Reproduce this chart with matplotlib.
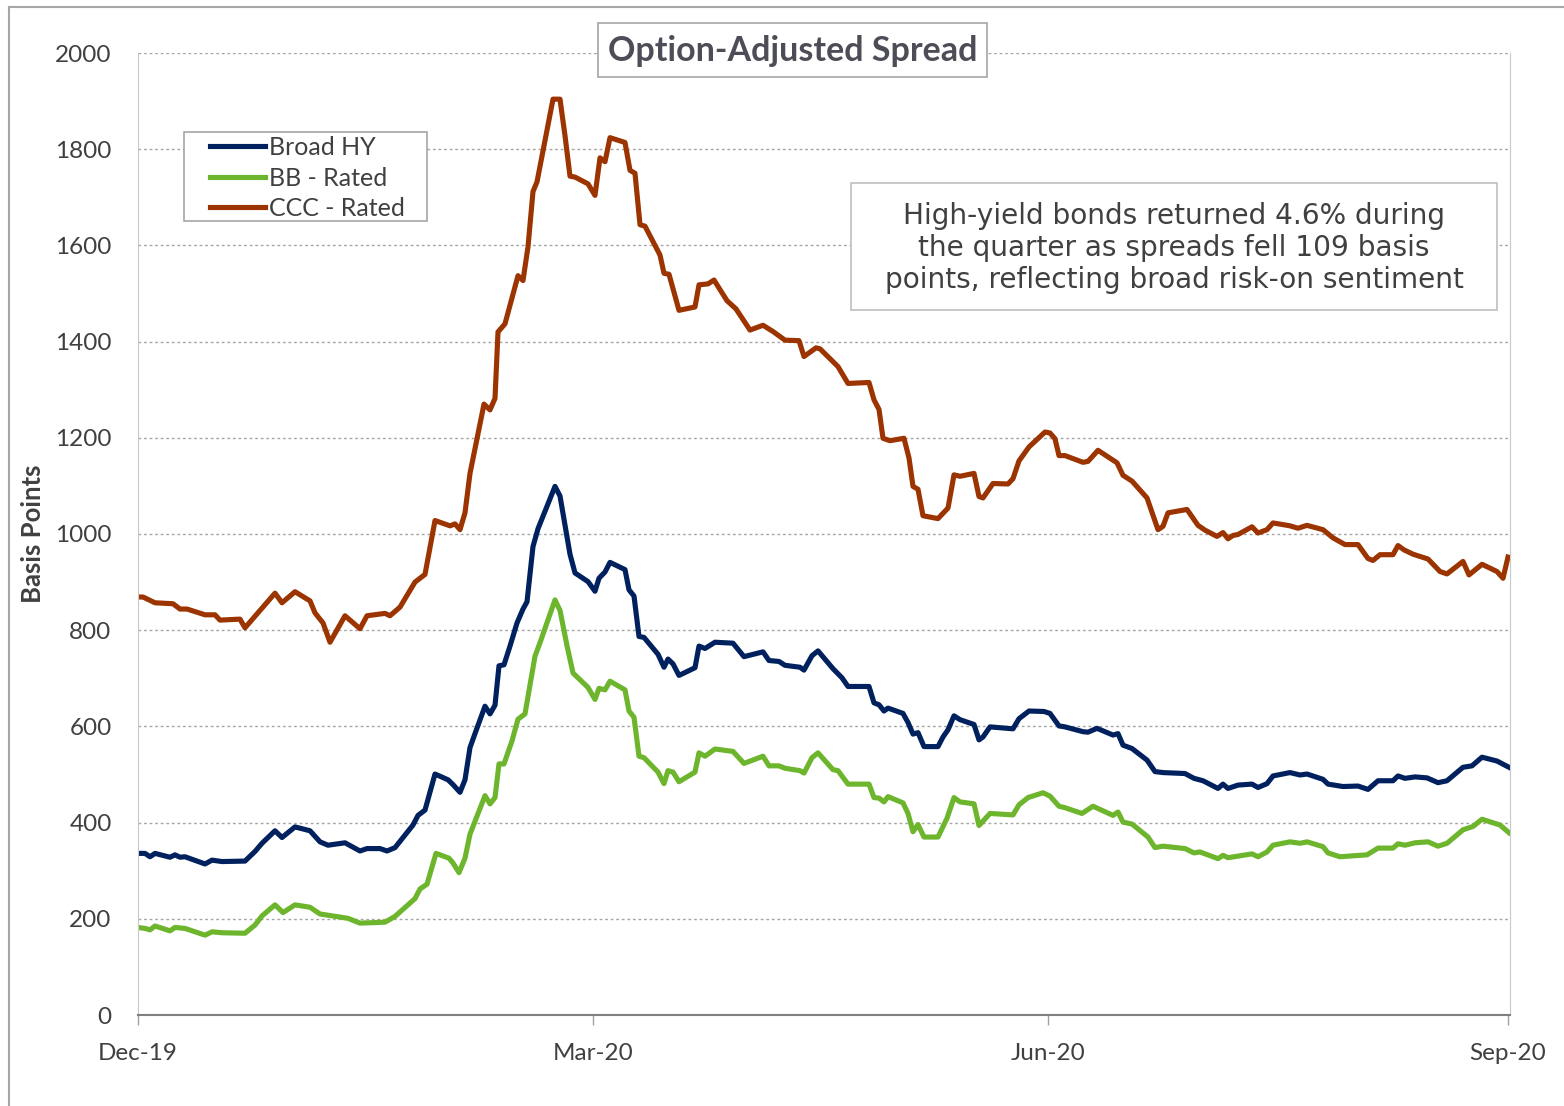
import matplotlib.pyplot as plt
from matplotlib.lines import Line2D
from matplotlib.patches import Rectangle
import pandas as pd

# Option-adjusted spreads (bp); x = days after 2019-12-31
start = pd.Timestamp('2019-12-31')

hy_days = [0, 1.4, 2.4, 3.4, 6.4, 7.4, 8.4, 9.4, 13.4, 14.8, 16.8, 21.4, 23.4, 24.8, 27.4, 28.8,
           31.4, 34.4, 36.4, 38, 41.4, 44.4, 45.8, 48.4, 49.8, 51.4, 55, 56, 57.4, 59.4, 62, 63,
           64.4, 65.4, 66.4, 67.4, 69.4, 70.4, 71.4, 72.2, 73.2, 74.4, 75.8, 77, 77.8, 79, 80,
           83.4, 84.4, 85.4, 86.4, 87.4, 90, 91.4, 92.2, 93.4, 94.4, 97.4, 98.2, 99.2, 100.2,
           101.2, 104, 105.2, 106, 107, 108.2, 111.4, 112.2, 113.4, 115.4, 119, 121.2, 125, 126.2,
           128.2, 129.4, 132.4, 133.2, 134.8, 136, 139, 140.8, 142, 146.2, 147.2, 148.2, 149.2,
           150, 153, 154, 155, 156, 157.2, 160, 161, 162, 163.2, 164.4, 167.2, 168.2, 169, 170.4,
           175, 176.2, 178.2, 181.2, 182.4, 184.2, 185.4, 189, 190, 191.8, 195, 196, 197, 198.8,
           201.8, 203.4, 205, 209.4, 211.2, 213, 216, 217, 218, 220, 222.8, 224, 225.8, 227,
           230.4, 232.4, 233.8, 237, 238, 241, 244, 246, 248, 251, 252, 253.4, 255.4, 257.8, 260,
           261.8, 265, 266.8, 268.8, 271.8, 274.2]
hy_oas = [336, 336, 329, 336, 328, 333, 328, 329, 314, 322, 319, 320, 340, 357, 383, 369,
          391, 383, 360, 353, 358, 341, 346, 346, 341, 348, 395, 415, 426, 501, 489, 479,
          463, 489, 556, 585, 642, 626, 644, 726, 728, 767, 815, 844, 859, 974, 1011,
          1099, 1079, 1018, 958, 919, 901, 881, 908, 921, 941, 926, 884, 871, 787,
          785, 750, 723, 740, 730, 706, 722, 767, 762, 775, 773, 745, 755, 737,
          735, 727, 723, 717, 747, 757, 720, 701, 683, 683, 649, 645, 632,
          638, 627, 608, 584, 587, 558, 558, 578, 593, 622, 614, 604, 572, 578, 599,
          595, 616, 632, 631, 627, 601, 599, 589, 588, 596, 582, 585, 561, 554,
          530, 506, 504, 502, 492, 487, 471, 480, 471, 478, 480, 473, 481, 497,
          504, 499, 501, 490, 480, 475, 476, 469, 487, 487, 497, 492, 495, 493, 483,
          487, 515, 518, 536, 528, 515]

bb_days = [0, 1.4, 2.4, 3.4, 6.4, 7.4, 9.4, 13.4, 14.8, 16.8, 21.4, 23.4, 24.8, 27.4, 29, 31.4,
           34.4, 36.4, 42, 44.4, 49.4, 51.4, 55.4, 56.4, 57.8, 59.6, 62.2, 63, 64.2, 65.4, 66.4,
           69.4, 70.4, 71.4, 72.2, 73.2, 74.8, 76, 77.4, 79.4, 80.4, 83.4, 84.4, 85.8, 87, 90,
           91.4, 92.2, 93.4, 94.4, 97.4, 98.2, 99.2, 100.2, 101.2, 104, 105.2, 106, 107, 108.2,
           111.4, 112.2, 113.4, 115.4, 119, 121.2, 125, 126.2, 128.2, 129.4, 132.4, 133.2, 134.8,
           136, 139, 140, 142, 146.2, 147.2, 148.2, 149.2, 150, 153, 154, 155, 156, 157.2, 160,
           161.8, 163.2, 164.4, 167.2, 168.2, 170.4, 175, 176.2, 178, 181, 182.4, 184.2, 185.4,
           188.8, 191, 195, 196, 197, 198.8, 202, 203.4, 205, 209.4, 211.2, 212.4, 216, 217, 218,
           222.8, 224, 225.8, 227, 230.4, 232.4, 233.8, 237, 238, 240.4, 245.8, 248, 251, 252,
           253.4, 255.4, 258, 260, 261.8, 265, 267, 268.8, 272.4, 274.2]
bb_oas = [182, 180, 177, 185, 175, 182, 180, 166, 173, 171, 170, 187, 206, 229, 213, 229,
          224, 210, 201, 191, 193, 205, 242, 262, 272, 336, 326, 316, 296, 326, 376,
          456, 439, 452, 522, 522, 570, 615, 626, 746, 774, 863, 841, 768, 711, 681,
          656, 679, 676, 694, 676, 632, 619, 538, 535, 505, 481, 508, 505, 485,
          505, 545, 538, 553, 548, 523, 538, 518, 518, 513, 508, 503, 535,
          545, 510, 508, 480, 480, 452, 451, 443, 454, 441, 419, 381, 396, 370, 370,
          409, 452, 443, 439, 394, 419, 416, 437, 452, 462, 455, 434, 431,
          419, 434, 415, 422, 401, 397, 370, 348, 351, 346, 337, 339, 325, 332, 327,
          335, 329, 339, 353, 360, 357, 360, 350, 337, 329, 333, 347, 347, 356,
          353, 358, 360, 351, 357, 385, 392, 407, 395, 379]

ccc_days = [0, 1, 3.4, 7, 8.4, 9.8, 13.4, 15.4, 16.4, 20.4, 21.4, 27.4, 28.8, 31.4, 34.4, 35.4,
            37, 38.4, 41.4, 44.4, 45.8, 49.4, 50.4, 52.4, 55.4, 57.4, 59.4, 62.4, 63.4, 64.4,
            65.4, 66.4, 69.2, 70.4, 71.4, 72, 73.4, 76, 77, 78, 79, 79.8, 83, 84.4, 85.4, 86.4,
            87.4, 90, 91.4, 92.4, 93.4, 94.4, 97.4, 98.4, 99.4, 100.4, 101.4, 104.4, 105.2, 106.2,
            108.2, 111.4, 112.2, 114, 115.2, 117.8, 119.6, 122.4, 125, 127, 129.4, 132.2, 133.2,
            135.6, 136.4, 140, 142, 146.2, 147.2, 148.2, 149, 150.4, 153.2, 154.2, 155, 156, 157,
            160, 162, 163.2, 164.4, 167.2, 168.2, 169, 171, 174, 175, 176.2, 178.2, 181.4, 182.4,
            183.4, 184.2, 185.4, 189, 190, 192, 195.8, 197, 198.8, 201.8, 204, 205, 206, 209.8,
            212, 213.4, 215.8, 217, 218, 219, 220, 222.8, 224, 225.8, 227, 230.4, 232, 233.8, 237,
            239, 241.4, 244, 246, 247, 248.4, 251, 252, 253.2, 255, 258, 260.4, 261.8, 265, 266.2,
            268.8, 271.8, 273, 274]
ccc_oas = [869, 869, 857, 855, 844, 844, 832, 832, 821, 823, 805, 877, 857, 880, 861, 836,
           815, 775, 830, 803, 830, 835, 830, 848, 900, 916, 1028, 1017, 1021, 1009,
           1044, 1126, 1270, 1258, 1282, 1420, 1437, 1537, 1527, 1597, 1712, 1732, 1904, 1904, 1828, 1744,
           1742, 1728, 1704, 1782, 1774, 1824, 1814, 1756, 1750, 1643, 1640, 1580, 1542, 1540,
           1465, 1472, 1518, 1520, 1528, 1485, 1468, 1424, 1434, 1421, 1403, 1402, 1369,
           1387, 1385, 1348, 1313, 1315, 1279, 1259, 1199, 1194, 1199, 1158, 1099, 1093, 1038,
           1032, 1054, 1123, 1120, 1126, 1078, 1075, 1105, 1104, 1115, 1152, 1181, 1212, 1210,
           1198, 1163, 1163, 1149, 1151, 1174, 1148, 1122, 1110, 1075, 1009, 1016, 1044, 1051,
           1018, 1008, 995, 1003, 990, 997, 999, 1015, 1002, 1009, 1023, 1017, 1012, 1018, 1009,
           992, 978, 978, 949, 945, 957, 957, 976, 967, 958, 948, 922, 917, 943, 915,
           937, 922, 908, 952]

tick_dates = ['2019-12-31', '2020-03-31', '2020-06-30', '2020-09-30']
tick_labels = ['Dec-19', 'Mar-20', 'Jun-20', 'Sep-20']

note = ('High-yield bonds returned 4.6% during\n'
        'the quarter as spreads fell 109 basis\n'
        'points, reflecting broad risk-on sentiment')

W, H = 1564, 1106


def to_dates(days):
    return start + pd.to_timedelta(days, unit='D')


def px_box(x0, y0, x1, y1, ec):
    # rectangle given in pixel coords of the picture (y from the top)
    return Rectangle((x0 / W, 1 - y1 / H), (x1 - x0) / W, (y1 - y0) / H,
                     transform=fig.transFigure, fc='white', ec=ec, lw=1.2, zorder=5,
                     clip_on=False)


plt.rcParams['font.family'] = ['Lato', 'DejaVu Sans']
text_col = '#404040'

fig = plt.figure(figsize=(W / 100, H / 100), dpi=100)
ax = fig.add_axes([138 / W, 1 - 1015 / H, 1372 / W, 962 / H])

ax.plot(to_dates(hy_days), hy_oas, color='#00215e', lw=3.7, label='Broad HY', solid_joinstyle='round')
ax.plot(to_dates(bb_days), bb_oas, color='#6db52c', lw=3.7, label='BB - Rated', solid_joinstyle='round')
ax.plot(to_dates(ccc_days), ccc_oas, color='#9b3400', lw=3.7, label='CCC - Rated', solid_joinstyle='round')

ax.set_ylim(0, 2000)
ax.set_yticks(range(0, 2001, 200))
ax.set_xlim(start, start + pd.Timedelta(days=274.4))
ax.set_xticks(pd.to_datetime(tick_dates))
ax.set_xticklabels(tick_labels)

ax.grid(axis='y', linestyle=(0, (2, 2)), color='#a6a6a6', lw=1)
ax.set_axisbelow(True)
ax.tick_params(axis='y', length=0, pad=19, labelsize=17.5, labelcolor=text_col)
ax.tick_params(axis='x', length=7, width=1, color='#a0a0a0', direction='out', pad=13,
               labelsize=17.5, labelcolor=text_col)

for side in ['left', 'right']:
    ax.spines[side].set_color('#c8c8c8')
ax.spines['top'].set_visible(False)
ax.spines['bottom'].set_color('#808080')
ax.spines['bottom'].set_linewidth(1.5)

ax.set_ylabel('Basis Points', fontsize=18.5, fontweight='bold', color=text_col)
ax.yaxis.set_label_coords(-0.0678, 0.5)

# legend: frame drawn by hand to get the wide side padding
ax.add_patch(px_box(184, 132, 427, 221, '#a6a6a6'))
leg = ax.legend(loc='upper left', bbox_to_anchor=((205 - 138) / 1372, (1015 - 131) / 962),
                borderaxespad=0, frameon=False, fontsize=18,
                handlelength=2.2, handletextpad=0.15, labelspacing=0.3, borderpad=0.2)
leg.set_zorder(6)
for t in leg.get_texts():
    t.set_color(text_col)

fig.add_artist(px_box(598, 23, 987, 77, '#a6a6a6'))
fig.text(793 / W, 1 - 51 / H, 'Option-Adjusted Spread', ha='center', va='center',
         fontsize=24.5, fontweight='bold', color='#4d4d57', zorder=6)

fig.add_artist(px_box(851, 183, 1497, 310, '#bfbfbf'))
fig.text(1174 / W, 1 - 248 / H, note, ha='center', va='center', fontsize=20.2,
         family=['DejaVu Sans'], color=text_col, linespacing=1.2, zorder=6)

# outer frame of the chart area
fig.add_artist(Line2D([9 / W, 9 / W], [0, 1 - 7 / H], transform=fig.transFigure,
                      color='#a6a6a6', lw=1.5))
fig.add_artist(Line2D([9 / W, 1], [1 - 7 / H, 1 - 7 / H], transform=fig.transFigure,
                      color='#a6a6a6', lw=1.5))

fig.savefig('out.png', dpi=100)
